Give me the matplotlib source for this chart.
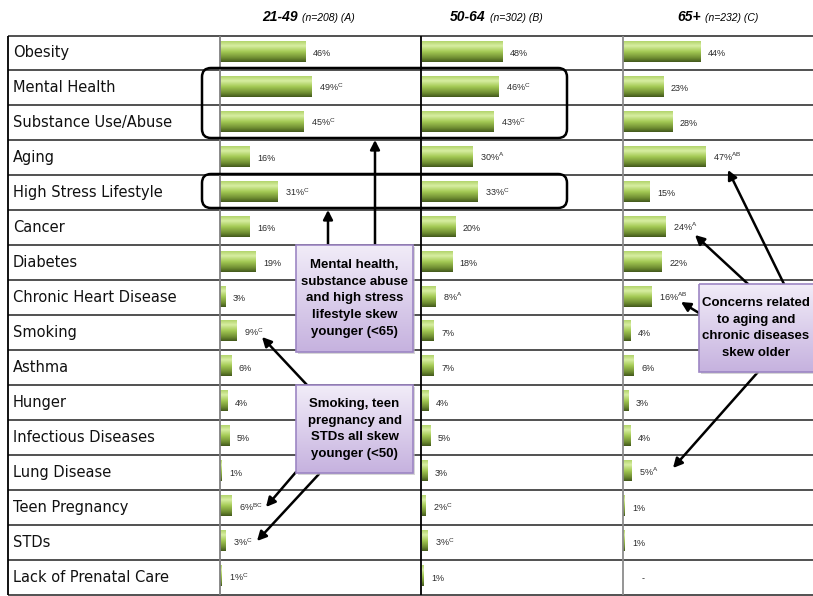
import numpy as np
import matplotlib
matplotlib.use("Agg")
import matplotlib.pyplot as plt
from matplotlib.colors import LinearSegmentedColormap
from matplotlib.patches import FancyBboxPatch

# ---------- data ----------
categories = ["Obesity", "Mental Health", "Substance Use/Abuse", "Aging",
              "High Stress Lifestyle", "Cancer", "Diabetes", "Chronic Heart Disease",
              "Smoking", "Asthma", "Hunger", "Infectious Diseases", "Lung Disease",
              "Teen Pregnancy", "STDs", "Lack of Prenatal Care"]

vals_a = [46, 49, 45, 16, 31, 16, 19, 3, 9, 6, 4, 5, 1, 6, 3, 1]
sig_a = ["", "C", "C", "", "C", "", "", "", "C", "", "", "", "", "BC", "C", "C"]
vals_b = [48, 46, 43, 30, 33, 20, 18, 8, 7, 7, 4, 5, 3, 2, 3, 1]
sig_b = ["", "C", "C", "A", "C", "", "", "A", "", "", "", "", "", "C", "C", ""]
vals_c = [44, 23, 28, 47, 15, 24, 22, 16, 4, 6, 3, 4, 5, 1, 1, None]
sig_c = ["", "", "", "AB", "", "A", "", "AB", "", "", "", "", "A", "", "", ""]

groups = ["21-49", "50-64", "65+"]
group_notes = ["(n=208) (A)", "(n=302) (B)", "(n=232) (C)"]

callouts = ["Mental health,\nsubstance abuse\nand high stress\nlifestyle skew\nyounger (<65)",
            "Smoking, teen\npregnancy and\nSTDs all skew\nyounger (<50)",
            "Concerns related\nto aging and\nchronic diseases\nskew older"]

# ---------- layout (pixels) ----------
W, H = 813, 596
top, bottom = 35.5, 595
rowh = (bottom - top) / len(categories)
col_left = [219.5, 421.5, 622.5]
col_right = [421.5, 622.5, 813]
px_per_pct = [1.86, 1.67, 1.76]

bar_cmap = LinearSegmentedColormap.from_list(
    "bar", [(0, "#b2d46c"), (0.22, "#d8eea2"), (0.5, "#a4ca55"),
            (0.8, "#718f33"), (1, "#43591c")])
box_cmap = LinearSegmentedColormap.from_list("box", ["#f1ecf8", "#c6b2df"])
grad = np.linspace(0, 1, 64).reshape(-1, 1)

fig = plt.figure(figsize=(W / 100, H / 100), dpi=100)

for k, (vals, sigs) in enumerate([(vals_a, sig_a), (vals_b, sig_b), (vals_c, sig_c)]):
    width_px = col_right[k] - col_left[k]
    ax = fig.add_axes([col_left[k] / W, 1 - bottom / H, width_px / W, (bottom - top) / H],
                      zorder=1)
    y = np.arange(len(categories)) - 0.05
    v = np.array([0 if x is None else x for x in vals], dtype=float)
    bars = ax.barh(y, v, height=0.6, color="#8fb64a", linewidth=0)
    for b in bars:
        x0, y0 = b.get_x(), b.get_y()
        im = ax.imshow(grad, extent=[x0, x0 + b.get_width(), y0 + b.get_height(), y0],
                       cmap=bar_cmap, aspect="auto", interpolation="bilinear", zorder=2)
        im.set_clip_path(b)
    for i, (val, s) in enumerate(zip(vals, sigs)):
        if val is None:
            lab, off = "-", 14
        else:
            lab, off = f"{val}%", 5.8
            if s:
                lab += r"$^{\mathregular{" + s + "}}$"
        ax.annotate(lab, xy=(0 if val is None else val, i), xytext=(off, -2.3),
                    textcoords="offset points", va="baseline", ha="left",
                    fontsize=6.5, family="Liberation Sans", color="#2b2b2b")
    ax.set_xlim(0, width_px / px_per_pct[k])
    ax.set_ylim(len(categories) - 0.5, -0.5)
    ax.axis("off")

# ---------- overlay: table, headers, callouts ----------
ov = fig.add_axes([0, 0, 1, 1], zorder=5)
ov.set_xlim(0, W)
ov.set_ylim(H, 0)
ov.axis("off")

ys = top + rowh * np.arange(len(categories) + 1)
ov.hlines(ys, 8, W, color="#333333", lw=1.2)
ov.vlines(8, top, bottom, color="black", lw=1.3)
ov.vlines(219.5, top, bottom, color="#808080", lw=1.3)
ov.vlines(421, top, bottom, color="black", lw=1.3)
ov.vlines(622.5, top, bottom, color="#8c8c8c", lw=1.3)

for i, c in enumerate(categories):
    ov.text(13, top + (i + 0.5) * rowh, c, va="center", ha="left",
            fontsize=10.5, family="DejaVu Sans", color="#111111")

head_x = [262, 450, 677]
for gx, g, n in zip(head_x, groups, group_notes):
    t = ov.text(gx, 24, g, fontsize=10, fontweight="bold", style="italic",
                family="Liberation Sans", va="bottom")
    ov.annotate(n, xy=(1, 0), xycoords=t, xytext=(3, 0.5), textcoords="offset points",
                fontsize=7.5, style="italic", family="Liberation Sans",
                va="bottom", ha="left")

# rounded outline boxes
for (x0, y0, x1, y1) in [(202, 68, 567, 138), (202, 174, 567, 208)]:
    ov.add_patch(FancyBboxPatch((x0, y0), x1 - x0, y1 - y0,
                                boxstyle="round,pad=0,rounding_size=9",
                                fc="none", ec="black", lw=1.8, zorder=3))

# arrows (tail -> head)
arrows = [((328, 245), (328, 210)), ((375, 245), (375, 140)),
          ((307, 385), (262, 337)), ((296, 472), (266, 507)),
          ((319, 474), (257, 541)), ((748, 284), (695, 235)),
          ((784, 284), (728, 170)), ((699, 313), (681, 302)),
          ((758, 372), (673, 468))]
for tail, head in arrows:
    ov.annotate("", xy=head, xytext=tail,
                arrowprops=dict(arrowstyle="-|>,head_length=0.55,head_width=0.28",
                                color="black", lw=1.8, shrinkA=0, shrinkB=0),
                zorder=4)

# purple callout boxes
boxes = [(296, 245, 413, 352), (296, 385, 413, 473), (699, 284, 818, 372)]
for (x0, y0, x1, y1), txt in zip(boxes, callouts):
    ov.add_patch(FancyBboxPatch((x0 + 2, y0 + 2), x1 - x0, y1 - y0,
                                boxstyle="square,pad=0", fc="#bbbbbb", ec="none",
                                alpha=0.6, zorder=5))
    clip = FancyBboxPatch((x0, y0), x1 - x0, y1 - y0, boxstyle="square,pad=0",
                          fc="none", ec="none", zorder=5)
    ov.add_patch(clip)
    im = ov.imshow(grad, extent=[x0, x1, y1, y0], cmap=box_cmap, aspect="auto",
                   interpolation="bilinear", zorder=6)
    im.set_clip_path(clip)
    ov.add_patch(FancyBboxPatch((x0, y0), x1 - x0, y1 - y0, boxstyle="square,pad=0",
                                fc="none", ec="#9d86c4", lw=1.2, zorder=7))
    ov.text((x0 + min(x1, W)) / 2, (y0 + y1) / 2, txt, ha="center", va="center",
            fontsize=9.5, fontweight="bold", family="Liberation Sans",
            linespacing=1.5, zorder=8)

ov.set_xlim(0, W)
ov.set_ylim(H, 0)

fig.savefig("out.png", dpi=100)
